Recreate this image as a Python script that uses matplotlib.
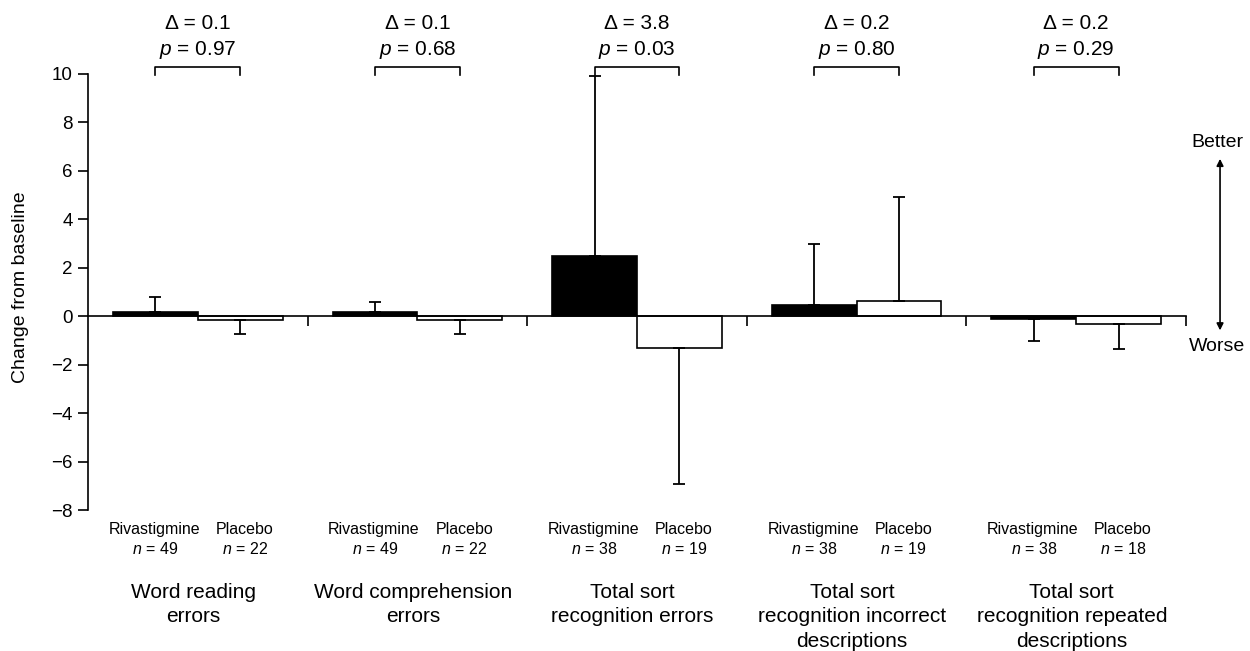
import numpy as np
import matplotlib
matplotlib.use('Agg')
import matplotlib.pyplot as plt

plt.rcParams['font.family'] = ['Liberation Sans', 'DejaVu Sans']
plt.rcParams['mathtext.fontset'] = 'custom'
plt.rcParams['mathtext.rm'] = 'Liberation Sans'
plt.rcParams['mathtext.it'] = 'Liberation Sans:italic'

# outcome measures, change from baseline
outcomes = ['Word reading\nerrors',
            'Word comprehension\nerrors',
            'Total sort\nrecognition errors',
            'Total sort\nrecognition incorrect\ndescriptions',
            'Total sort\nrecognition repeated\ndescriptions']
riva_mean = [0.18, 0.19, 2.5, 0.48, -0.12]
riva_sd = [0.62, 0.41, 7.4, 2.52, 0.88]
plac_mean = [-0.16, -0.16, -1.3, 0.62, -0.3]
plac_sd = [0.55, 0.58, 5.6, 4.28, 1.03]
riva_n = [49, 49, 38, 38, 38]
plac_n = [22, 22, 19, 19, 18]
deltas = ['0.1', '0.1', '3.8', '0.2', '0.2']
pvals = ['0.97', '0.68', '0.03', '0.80', '0.29']

x = np.arange(len(outcomes))
w = 0.386

fig = plt.figure(figsize=(12.5, 6.51), dpi=100)
ax = fig.add_axes([0.0704, 0.216, 0.8784, 0.6708])

def one_sided(mean, sd):
    mean = np.asarray(mean)
    sd = np.asarray(sd)
    lo = np.where(mean < 0, sd, 0)
    hi = np.where(mean >= 0, sd, 0)
    return [lo, hi]

ax.bar(x - w/2, riva_mean, w, color='black', edgecolor='black', lw=1.2)
ax.bar(x + w/2, plac_mean, w, color='white', edgecolor='black', lw=1.2)
ax.errorbar(x - w/2, riva_mean, yerr=one_sided(riva_mean, riva_sd), fmt='none',
            ecolor='black', elinewidth=1.3, capsize=4, capthick=1.3)
ax.errorbar(x + w/2, plac_mean, yerr=one_sided(plac_mean, plac_sd), fmt='none',
            ecolor='black', elinewidth=1.3, capsize=4, capthick=1.3)

ax.set_xlim(-0.5, 4.5)
ax.set_ylim(-8, 10)
ax.set_yticks(range(-8, 11, 2))
ax.set_yticklabels([str(v).replace('-', '\u2212') for v in range(-8, 11, 2)])
ax.set_xticks(x + 0.5)
ax.set_xticklabels([])
for s in ['top', 'right']:
    ax.spines[s].set_visible(False)
ax.spines['bottom'].set_position(('data', 0))
for s in ['left', 'bottom']:
    ax.spines[s].set_linewidth(1.2)
ax.tick_params(axis='both', direction='out', length=7, width=1.2,
               labelsize=13.5, pad=4)

# brackets with difference and p-value above each pair
for i in x:
    x0, x1 = i - w/2, i + w/2
    ax.plot([x0, x0, x1, x1], [9.95, 10.26, 10.26, 9.95], color='black',
            lw=1.2, clip_on=False)
    ax.text(i, 12.06, '\u0394 = ' + deltas[i], ha='center', va='center',
            fontsize=15)
    ax.text(i, 10.99, '$p$ = ' + pvals[i], ha='center', va='center',
            fontsize=15)

# group labels under the axis
for i in x:
    ax.text(i - w/2 - 0.005, -8.77, 'Rivastigmine', ha='center', va='center',
            fontsize=11.5)
    ax.text(i + w/2 + 0.02, -8.77, 'Placebo', ha='center', va='center',
            fontsize=11.5)
    ax.text(i - w/2, -9.59, '$n$ = %d' % riva_n[i], ha='center', va='center',
            fontsize=11.5)
    ax.text(i + w/2 + 0.02, -9.59, '$n$ = %d' % plac_n[i], ha='center',
            va='center', fontsize=11.5)
    ax.text(i - 0.02, -11.0, outcomes[i], ha='center', va='top',
            fontsize=15, linespacing=1.35)

# better / worse direction arrow
ax.annotate('', xy=(4.655, 6.49), xytext=(4.655, -0.58),
            arrowprops=dict(arrowstyle='<|-|>', color='black', lw=1.2,
                            mutation_scale=10, shrinkA=0, shrinkB=0),
            annotation_clip=False)
ax.text(4.645, 7.17, 'Better', ha='center', va='center', fontsize=14)
ax.text(4.64, -1.23, 'Worse', ha='center', va='center', fontsize=14)

fig.text(0.0168, 0.559, 'Change from baseline', rotation=90, ha='center',
         va='center', fontsize=14)

fig.savefig('out.png', dpi=100)
